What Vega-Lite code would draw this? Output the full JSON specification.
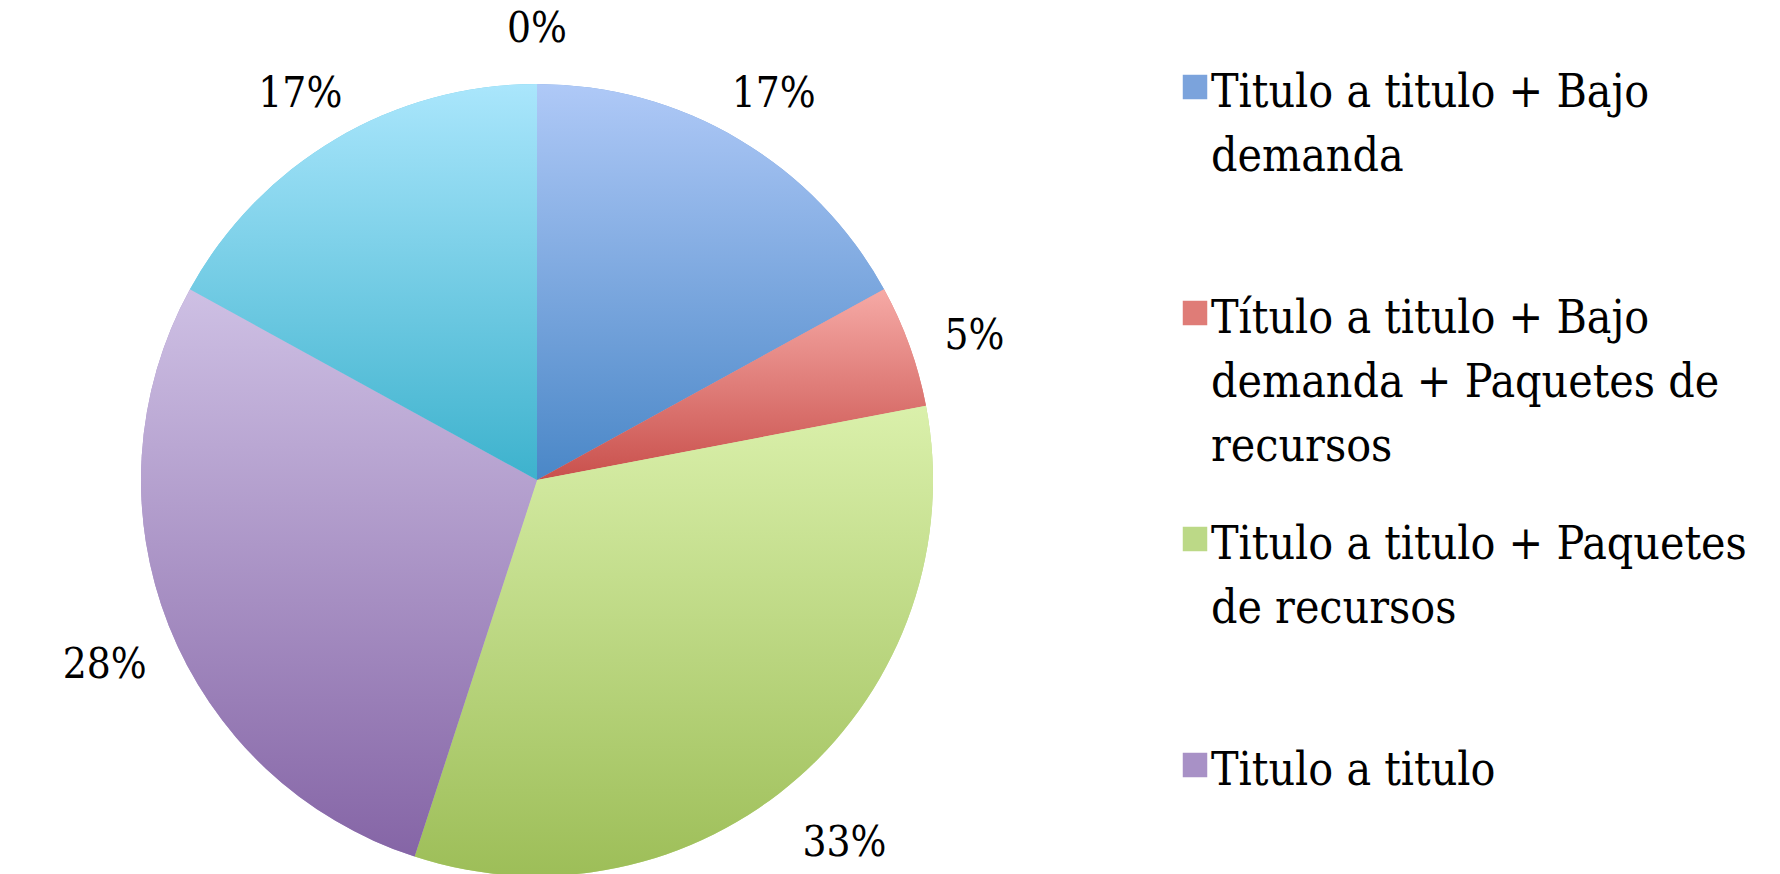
{
  "$schema": "https://vega.github.io/schema/vega-lite/v6.json",
  "width": 1780,
  "height": 874,
  "autosize": {"type": "none"},
  "padding": 0,
  "background": "white",
  "data": {"values": [
    {"orden": 1, "categoria": "Titulo a titulo + Bajo demanda", "valor": 0.17},
    {"orden": 2, "categoria": "Título a titulo + Bajo demanda + Paquetes de recursos", "valor": 0.05},
    {"orden": 3, "categoria": "Titulo a titulo + Paquetes de recursos", "valor": 0.33},
    {"orden": 4, "categoria": "Titulo a titulo", "valor": 0.28},
    {"orden": 5, "categoria": "Bajo demanda", "valor": 0.17},
    {"orden": 6, "categoria": "Paquetes de recursos", "valor": 0.0}
  ]},
  "encoding": {
    "theta": {"field": "valor", "type": "quantitative", "stack": true},
    "order": {"field": "orden", "type": "quantitative"}
  },
  "layer": [
    {
      "mark": {"type": "arc", "outerRadius": 396, "x": 537, "y": 480},
      "encoding": {
        "color": {
          "field": "categoria",
          "type": "nominal",
          "scale": {
            "domain": ["Titulo a titulo + Bajo demanda", "Título a titulo + Bajo demanda + Paquetes de recursos", "Titulo a titulo + Paquetes de recursos", "Titulo a titulo", "Bajo demanda", "Paquetes de recursos"],
            "range": ["#7BA3DC", "#DF7C77", "#BCD987", "#A891C6", "#71CBE5", "#F9B070"]
          },
          "legend": {
            "values": ["Titulo a titulo + Bajo demanda", "Título a titulo + Bajo demanda + Paquetes de recursos", "Titulo a titulo + Paquetes de recursos", "Titulo a titulo"],
            "title": null,
            "orient": "none",
            "legendX": 1172,
            "legendY": 64,
            "padding": 0,
            "symbolType": "square",
            "symbolSize": 600,
            "symbolStrokeWidth": 0,
            "labelFont": "DejaVu Serif Condensed",
            "labelFontSize": 46,
            "labelColor": "black",
            "labelLimit": 0,
            "labelOffset": -7,
            "labelBaseline": "alphabetic",
            "rowPadding": 46,
            "labelExpr": "datum.value == 'Titulo a titulo + Bajo demanda' ? ['Titulo a titulo + Bajo', 'demanda', ''] : datum.value == 'Título a titulo + Bajo demanda + Paquetes de recursos' ? ['Título a titulo + Bajo', 'demanda + Paquetes de', 'recursos'] : datum.value == 'Titulo a titulo + Paquetes de recursos' ? ['Titulo a titulo + Paquetes', 'de recursos', ''] : [datum.label, '', '']",
            "encode": {
              "labels": {"update": {"lineHeight": {"value": 64}, "dy": {"value": 20}}},
              "symbols": {"update": {"fill": {"signal": "datum.value == 'Titulo a titulo + Bajo demanda' ? {gradient: 'linear', x1: 0, y1: 0, x2: 0, y2: 1, stops: [{offset: 0, color: '#AFC9F7'}, {offset: 1, color: '#4A87C7'}]} : datum.value == 'Titulo a titulo' ? {gradient: 'linear', x1: 0, y1: 0, x2: 0, y2: 1, stops: [{offset: 0, color: '#CEC0E4'}, {offset: 1, color: '#8565A6'}]} : datum.value == 'Titulo a titulo + Paquetes de recursos' ? {gradient: 'linear', x1: 0, y1: 0, x2: 0, y2: 1, stops: [{offset: 0, color: '#DAF0AB'}, {offset: 1, color: '#9DBE58'}]} : {gradient: 'linear', x1: 0, y1: 0, x2: 0, y2: 1, stops: [{offset: 0, color: '#F6AAA6'}, {offset: 1, color: '#C9504C'}]}"}}}
            }
          }
        }
      }
    },
    {
      "mark": {"type": "arc", "outerRadius": 396, "x": 537, "y": 480},
      "encoding": {
        "color": {
          "condition": [
            {"test": "datum.orden == 1", "value": {"gradient": "linear", "x1": 0, "y1": 0, "x2": 0, "y2": 1, "stops": [{"offset": 0, "color": "#AFC9F7"}, {"offset": 1, "color": "#4A87C7"}]}},
            {"test": "datum.orden == 2", "value": {"gradient": "linear", "x1": 0, "y1": 0, "x2": 0, "y2": 1, "stops": [{"offset": 0, "color": "#F6AAA6"}, {"offset": 1, "color": "#C9504C"}]}},
            {"test": "datum.orden == 3", "value": {"gradient": "linear", "x1": 0, "y1": 0, "x2": 0, "y2": 1, "stops": [{"offset": 0, "color": "#DAF0AB"}, {"offset": 1, "color": "#9DBE58"}]}},
            {"test": "datum.orden == 4", "value": {"gradient": "linear", "x1": 0, "y1": 0, "x2": 0, "y2": 1, "stops": [{"offset": 0, "color": "#CEC0E4"}, {"offset": 1, "color": "#8565A6"}]}},
            {"test": "datum.orden == 5", "value": {"gradient": "linear", "x1": 0, "y1": 0, "x2": 0, "y2": 1, "stops": [{"offset": 0, "color": "#AAE6FC"}, {"offset": 1, "color": "#3DB2CD"}]}}
          ],
          "value": {"gradient": "linear", "x1": 0, "y1": 0, "x2": 0, "y2": 1, "stops": [{"offset": 0, "color": "#FBCB9A"}, {"offset": 1, "color": "#F79646"}]}
        }
      }
    },
    {
      "mark": {"type": "text", "radius": 465, "x": 537, "y": 480, "dy": 14, "font": "DejaVu Serif Condensed", "fontSize": 42, "align": "center", "baseline": "middle"},
      "encoding": {
        "text": {"field": "valor", "type": "quantitative", "format": ".0%"},
        "color": {"value": "black"}
      }
    }
  ]
}
